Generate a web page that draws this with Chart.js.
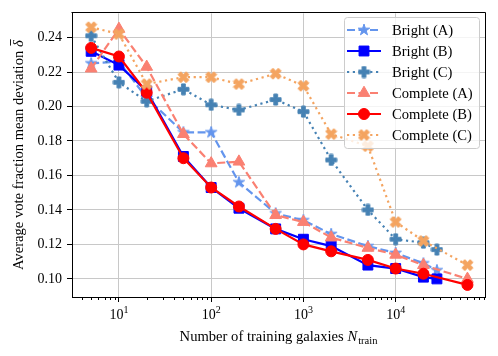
<!DOCTYPE html>
<html>
<head>
<meta charset="utf-8">
<script src="https://cdn.jsdelivr.net/npm/chart.js@4.4.1/dist/chart.umd.min.js"></script>
<style>
  html, body { margin: 0; padding: 0; background: #fff; }
  canvas { display: block; }
</style>
</head>
<body>
<canvas id="myChart" width="498" height="356"></canvas>
<script>
// number of training galaxies
const nBright = [5, 10, 20, 50, 100, 200, 500, 1000, 2000, 5000, 10000, 20000, 28000];
const nComplete = [5, 10, 20, 50, 100, 200, 500, 1000, 2000, 5000, 10000, 20000, 60000];

// average vote fraction mean deviation
const brightA = [0.225, 0.226, 0.205, 0.185, 0.185, 0.156, 0.138, 0.134, 0.126, 0.119, 0.115, 0.109, 0.105];
const brightB = [0.232, 0.224, 0.209, 0.171, 0.153, 0.141, 0.129, 0.123, 0.119, 0.108, 0.106, 0.101, 0.100];
const brightC = [0.241, 0.214, 0.203, 0.210, 0.201, 0.198, 0.204, 0.197, 0.169, 0.140, 0.123, 0.121, 0.117];
const completeA = [0.222, 0.245, 0.223, 0.184, 0.167, 0.168, 0.137, 0.133, 0.124, 0.118, 0.114, 0.108, 0.100];
const completeB = [0.234, 0.229, 0.208, 0.170, 0.153, 0.142, 0.129, 0.120, 0.116, 0.111, 0.106, 0.103, 0.0965];
const completeC = [0.246, 0.242, 0.213, 0.217, 0.217, 0.213, 0.219, 0.212, 0.184, 0.177, 0.133, 0.122, 0.108];

const xTicks = [10, 100, 1000, 10000];
const yTicks = [0.10, 0.12, 0.14, 0.16, 0.18, 0.20, 0.22, 0.24];

const SERIF = "'Liberation Serif', 'Times New Roman', serif";

// filled marker shapes (matplotlib style) drawn on small canvases
function markerCanvas(size, color, verts) {
    const c = document.createElement('canvas');
    c.width = size + 2;
    c.height = size + 2;
    const g = c.getContext('2d');
    g.translate(c.width / 2, c.height / 2);
    g.beginPath();
    verts.forEach((p, i) => i ? g.lineTo(p[0], p[1]) : g.moveTo(p[0], p[1]));
    g.closePath();
    g.fillStyle = color;
    g.strokeStyle = color;
    g.lineWidth = 1;
    g.fill();
    g.stroke();
    return c;
}

function starVerts(r) {
    const pts = [];
    for (let i = 0; i < 10; i++) {
        const rr = i % 2 ? r * 0.382 : r;
        const a = -Math.PI / 2 + i * Math.PI / 5;
        pts.push([rr * Math.cos(a), rr * Math.sin(a)]);
    }
    return pts;
}
function plusVerts(s) {
    const u = s / 6;
    return [[-1, -3], [1, -3], [1, -1], [3, -1], [3, 1], [1, 1], [1, 3], [-1, 3], [-1, 1], [-3, 1], [-3, -1], [-1, -1]]
        .map(p => [p[0] * u, p[1] * u]);
}
function xVerts(s) {
    const u = s / 4;
    return [[-1, -2], [0, -1], [1, -2], [2, -1], [1, 0], [2, 1], [1, 2], [0, 1], [-1, 2], [-2, 1], [-1, 0], [-2, -1]]
        .map(p => [p[0] * u, p[1] * u]);
}

const DASHED = [8, 3.5];
const DOTTED = [2.2, 3.6];

function series(label, xs, ys, color, dash, style, radius) {
    return {
        label: label,
        data: xs.map((x, i) => ({ x: x, y: ys[i] })),
        borderColor: color,
        backgroundColor: color,
        borderWidth: 2.2,
        borderDash: dash,
        borderCapStyle: 'butt',
        pointStyle: style,
        pointRadius: radius,
        pointHoverRadius: radius,
        pointBorderWidth: 1,
        pointBackgroundColor: color,
        pointBorderColor: color,
        tension: 0,
        fill: false
    };
}

const datasets = [
    series('Bright (A)', nBright, brightA, '#6495ED', DASHED, markerCanvas(12, '#6495ED', starVerts(6)), 6),
    series('Bright (B)', nBright, brightB, '#0000FF', [], 'rect', 7),
    series('Bright (C)', nBright, brightC, '#4682B4', DOTTED, markerCanvas(11, '#4682B4', plusVerts(11)), 6),
    series('Complete (A)', nComplete, completeA, '#FA8072', DASHED, 'triangle', 6.8),
    series('Complete (B)', nComplete, completeB, '#FF0000', [], 'circle', 5.5),
    series('Complete (C)', nComplete, completeC, '#F4A460', DOTTED, markerCanvas(11, '#F4A460', xVerts(11)), 6)
];
// later series on top, like matplotlib
datasets.forEach((d, i) => { d.order = datasets.length - 1 - i; });

// extra drawing: frame, minor ticks, x labels, axis titles, legend
const decorations = {
    id: 'decorations',
    afterDraw(chart) {
        const ctx = chart.ctx;
        const a = chart.chartArea;
        const xs = chart.scales.x;
        ctx.save();

        // top and right spines
        ctx.strokeStyle = '#000';
        ctx.lineWidth = 1;
        ctx.setLineDash([]);
        ctx.beginPath();
        ctx.moveTo(Math.round(a.left) - 0.5, Math.round(a.top) - 0.5);
        ctx.lineTo(Math.round(a.right) + 0.5, Math.round(a.top) - 0.5);
        ctx.lineTo(Math.round(a.right) + 0.5, Math.round(a.bottom) + 0.5);
        ctx.stroke();

        // minor log ticks
        ctx.beginPath();
        for (let d = 0; d <= 4; d++) {
            for (let k = 2; k <= 9; k++) {
                const v = k * Math.pow(10, d);
                if (v <= xs.min || v >= xs.max) continue;
                const px = Math.round(xs.getPixelForValue(v)) + 0.5;
                ctx.moveTo(px, a.bottom);
                ctx.lineTo(px, a.bottom + 3);
            }
        }
        ctx.stroke();

        // x tick labels 10^n
        ctx.fillStyle = '#000';
        ctx.textBaseline = 'alphabetic';
        xTicks.forEach(v => {
            const base = '10';
            const sup = String(Math.round(Math.log10(v)));
            ctx.font = '14px ' + SERIF;
            const wb = ctx.measureText(base).width;
            ctx.font = '10px ' + SERIF;
            const ws = ctx.measureText(sup).width;
            const x0 = xs.getPixelForValue(v) - (wb + ws) / 2;
            ctx.font = '14px ' + SERIF;
            ctx.textAlign = 'left';
            ctx.fillText(base, x0, 319);
            ctx.font = '10px ' + SERIF;
            ctx.fillText(sup, x0 + wb, 313);
        });

        // x title
        const t1 = 'Number of training galaxies ';
        ctx.font = '14.6px ' + SERIF;
        const w1 = ctx.measureText(t1).width;
        ctx.font = 'italic 14.6px ' + SERIF;
        const w2 = ctx.measureText('N').width;
        ctx.font = '10.5px ' + SERIF;
        const w3 = ctx.measureText('train').width;
        let tx = (a.left + a.right) / 2 - (w1 + w2 + w3 + 1) / 2;
        ctx.font = '14.6px ' + SERIF;
        ctx.fillText(t1, tx, 341);
        ctx.font = 'italic 14.6px ' + SERIF;
        ctx.fillText('N', tx + w1, 341);
        ctx.font = '10.5px ' + SERIF;
        ctx.fillText('train', tx + w1 + w2 + 1, 344);

        // y title (rotated)
        ctx.save();
        ctx.translate(19, (a.top + a.bottom) / 2);
        ctx.rotate(-Math.PI / 2);
        const yt = 'Average vote fraction mean deviation ';
        ctx.font = '14.6px ' + SERIF;
        const wy1 = ctx.measureText(yt).width;
        ctx.font = 'italic 14.6px ' + SERIF;
        const wy2 = ctx.measureText('δ').width;
        const y0 = -(wy1 + wy2) / 2;
        ctx.textBaseline = 'middle';
        ctx.font = '14.6px ' + SERIF;
        ctx.fillText(yt, y0, 0);
        ctx.font = 'italic 14.6px ' + SERIF;
        ctx.fillText('δ', y0 + wy1, 0);
        ctx.beginPath();
        ctx.lineWidth = 0.9;
        ctx.moveTo(y0 + wy1 + 1.5, -8.5);
        ctx.lineTo(y0 + wy1 + wy2 + 1, -8.5);
        ctx.stroke();
        ctx.restore();

        // legend box
        const lx = 344, ly = 17, lw = 135, lh = 131;
        ctx.beginPath();
        ctx.roundRect(lx + 0.5, ly + 0.5, lw, lh, 3);
        ctx.fillStyle = 'rgba(255,255,255,0.8)';
        ctx.fill();
        ctx.strokeStyle = '#cccccc';
        ctx.lineWidth = 1;
        ctx.stroke();

        chart.data.datasets.forEach((ds, i) => {
            const ry = 30 + i * 21;
            ctx.beginPath();
            ctx.strokeStyle = ds.borderColor;
            ctx.lineWidth = ds.borderWidth;
            ctx.lineCap = 'butt';
            ctx.setLineDash(ds.borderDash);
            ctx.moveTo(347, ry);
            ctx.lineTo(381, ry);
            ctx.stroke();
            ctx.setLineDash([]);
            ctx.fillStyle = ds.pointBackgroundColor;
            ctx.strokeStyle = ds.pointBorderColor;
            ctx.lineWidth = 1;
            Chart.helpers.drawPoint(ctx, {
                pointStyle: ds.pointStyle, radius: ds.pointRadius, rotation: 0, borderWidth: 1
            }, 364, ry);
            ctx.fillStyle = '#000';
            ctx.font = '14.6px ' + SERIF;
            ctx.textAlign = 'left';
            ctx.textBaseline = 'middle';
            ctx.fillText(ds.label, 392, ry + 1);
        });

        ctx.restore();
    }
};

const ctx = document.getElementById('myChart').getContext('2d');
const chart = new Chart(ctx, {
    type: 'line',
    data: { datasets: datasets },
    options: {
        responsive: false,
        animation: false,
        layout: { padding: { top: 10, right: 13, left: 0, bottom: 0 } },
        plugins: {
            legend: { display: false },
            title: { display: false },
            tooltip: { enabled: false }
        },
        scales: {
            x: {
                type: 'logarithmic',
                min: 3.1,
                max: 93000,
                afterBuildTicks: s => { s.ticks = xTicks.map(v => ({ value: v })); },
                afterFit: s => { s.height = 59; },
                grid: { color: '#c8c8c8', lineWidth: 1, tickLength: 5, tickColor: '#000', tickWidth: 1 },
                border: { color: '#000', width: 1 },
                ticks: { callback: () => '', autoSkip: false, maxRotation: 0 }
            },
            y: {
                type: 'linear',
                min: 0.0895,
                max: 0.254,
                afterBuildTicks: s => { s.ticks = yTicks.map(v => ({ value: v })); },
                afterFit: s => { s.width = 72; },
                grid: { color: '#c8c8c8', lineWidth: 1, tickLength: 5, tickColor: '#000', tickWidth: 1 },
                border: { color: '#000', width: 1 },
                ticks: {
                    callback: v => Number(v).toFixed(2),
                    padding: 5,
                    color: '#000',
                    font: { family: SERIF, size: 14 }
                }
            }
        }
    },
    plugins: [decorations]
});
</script>
</body>
</html>
